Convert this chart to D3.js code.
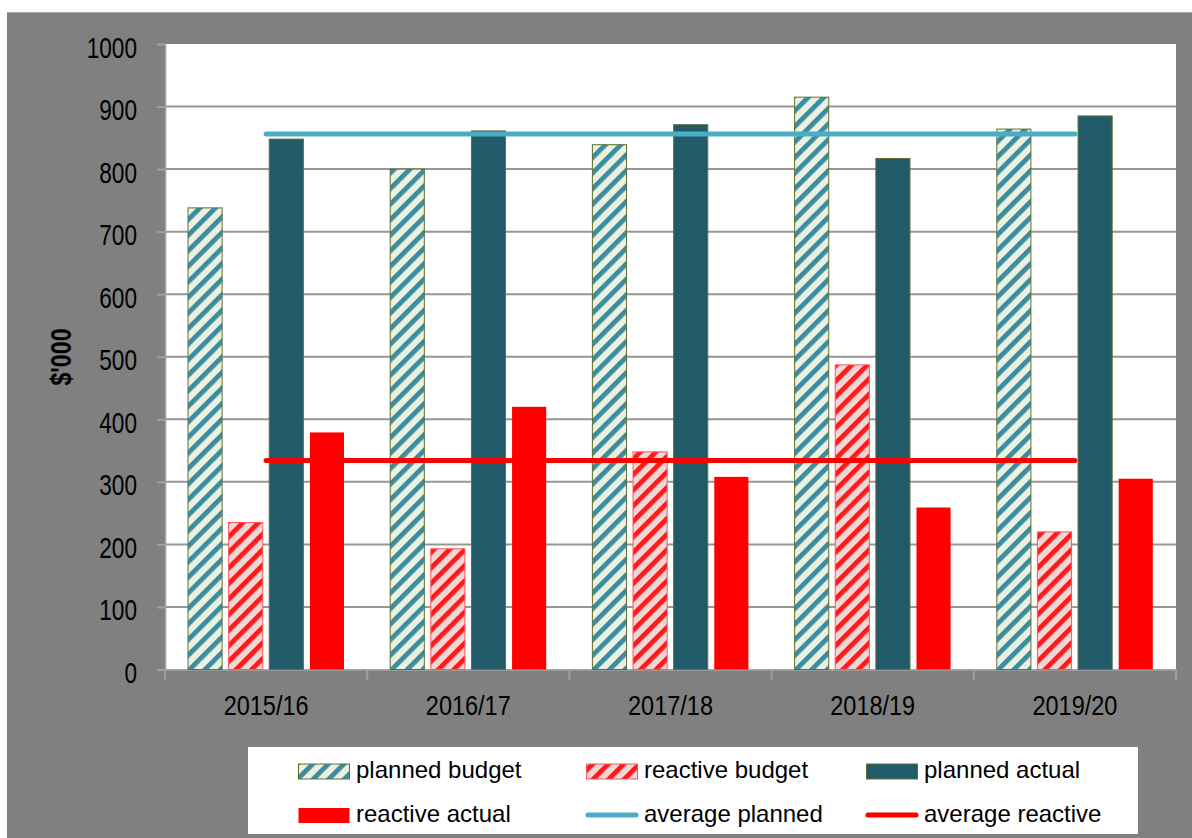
<!DOCTYPE html>
<html>
<head>
<meta charset="utf-8">
<script src="https://cdn.jsdelivr.net/npm/d3@7"></script>
<style>
  html, body { margin: 0; padding: 0; background: #ffffff; }
  svg { display: block; }
  text { font-family: "Liberation Sans", Arial, sans-serif; fill: #000; }
</style>
</head>
<body>
<svg id="chart" width="1192" height="838"></svg>
<script>
// ---- data ----
const categories = ["2015/16", "2016/17", "2017/18", "2018/19", "2019/20"];
const plannedBudget  = [738, 800, 839, 915, 864];
const reactiveBudget = [235, 193, 348, 487, 220];
const plannedActual  = [848, 861, 871, 817, 885];
const reactiveActual = [379, 420, 308, 259, 305];
const averagePlanned  = 856;
const averageReactive = 334;
const yTicks = [0, 100, 200, 300, 400, 500, 600, 700, 800, 900, 1000];
const seriesNames = ["planned budget", "reactive budget", "planned actual", "reactive actual"];
const lineNames = ["average planned", "average reactive"];

const svg = d3.select("#chart");
const W = 1192, H = 838;
const plot = { left: 165, right: 1176, top: 44, bottom: 669.5 };

// defs / patterns
const defs = svg.append("defs");
function stripe(id, bg, fg) {
  const p = defs.append("pattern")
    .attr("id", id).attr("patternUnits", "userSpaceOnUse")
    .attr("width", 11).attr("height", 11)
    .attr("patternTransform", "rotate(45)");
  p.append("rect").attr("width", 11).attr("height", 11).attr("fill", bg);
  p.append("rect").attr("x", 0).attr("width", 4.8).attr("height", 11).attr("fill", fg);
}
stripe("pbPat", "#EBF1DE", "#3A8CA2");
stripe("rbPat", "#F2D6D6", "#FF1A1A");

// background
svg.append("rect").attr("x", 7).attr("y", 12).attr("width", W - 7).attr("height", H - 12).attr("fill", "#808080");
svg.append("line").attr("x1", 7).attr("x2", W).attr("y1", 12.5).attr("y2", 12.5).attr("stroke", "#a8a8a8").attr("stroke-width", 1);
svg.append("rect").attr("x", plot.left).attr("y", plot.top)
  .attr("width", plot.right - plot.left).attr("height", plot.bottom - plot.top).attr("fill", "#ffffff");

// scales
const y = d3.scaleLinear().domain([0, 1000]).range([plot.bottom, plot.top]);
const x0 = d3.scaleBand().domain(categories).range([plot.left, plot.right]).padding(0);
const x1 = d3.scaleBand().domain(seriesNames).range([23, 179]).paddingInner(0.16).paddingOuter(0);

// gridlines
svg.append("g").selectAll("line").data(yTicks.filter(v => v > 0 && v < 1000)).join("line")
  .attr("x1", plot.left).attr("x2", plot.right)
  .attr("y1", d => y(d)).attr("y2", d => y(d))
  .attr("stroke", "#969696").attr("stroke-width", 2);

// y axis
const yAxis = d3.axisLeft(y).tickValues(yTicks).tickSize(8).tickFormat(d3.format("d"));
const gy = svg.append("g").attr("transform", `translate(${plot.left},0)`).call(yAxis);
gy.select(".domain").attr("stroke", "#a0a0a0").attr("stroke-width", 1.5);
gy.selectAll(".tick line").attr("stroke", "#a0a0a0").attr("stroke-width", 2);
gy.selectAll(".tick text").each(function(d) {
  const t = d3.select(this);
  t.attr("x", null).attr("dy", null).attr("fill", "#000")
   .attr("text-anchor", "end")
   .style("font-size", "29px")
   .style("font-family", '"Liberation Sans", Arial, sans-serif')
   .attr("transform", `translate(-28,13) scale(0.78,1)`);
});

// x axis
const xAxis = d3.axisBottom(x0).tickSize(0).tickPadding(0);
const gx = svg.append("g").attr("transform", `translate(0,${plot.bottom})`).call(xAxis);
gx.select(".domain").attr("stroke", "#a0a0a0").attr("stroke-width", 1.5);
gx.selectAll(".tick text").each(function() {
  d3.select(this).attr("y", null).attr("dy", null).attr("fill", "#000")
    .attr("text-anchor", "middle")
    .style("font-size", "27px")
    .style("font-family", '"Liberation Sans", Arial, sans-serif')
    .attr("transform", "translate(0,45) scale(0.87,1)");
});
// category boundary ticks
const bounds = categories.map(c => x0(c)).concat([plot.right]);
gx.append("g").selectAll("line").data(bounds).join("line")
  .attr("x1", d => d).attr("x2", d => d).attr("y1", 0).attr("y2", 10)
  .attr("stroke", "#a0a0a0").attr("stroke-width", 2);

// y title
svg.append("text")
  .attr("transform", "translate(71,357) rotate(-90) scale(0.8,1)")
  .attr("text-anchor", "middle")
  .style("font-size", "29px").style("font-weight", "bold")
  .text("$'000");

// bars
const styles = {
  "planned budget":  { fill: "url(#pbPat)", stroke: "#5E7033", sw: 1 },
  "reactive budget": { fill: "url(#rbPat)", stroke: "#FF5555", sw: 1 },
  "planned actual":  { fill: "#215A68", stroke: "#5E7033", sw: 1 },
  "reactive actual": { fill: "#FF0000", stroke: "none", sw: 0 }
};
const seriesValues = {
  "planned budget": plannedBudget,
  "reactive budget": reactiveBudget,
  "planned actual": plannedActual,
  "reactive actual": reactiveActual
};
const barData = [];
categories.forEach((c, i) => {
  seriesNames.forEach(s => barData.push({ cat: c, series: s, value: seriesValues[s][i] }));
});
svg.append("g").selectAll("rect").data(barData).join("rect")
  .attr("x", d => x0(d.cat) + x1(d.series))
  .attr("y", d => y(d.value))
  .attr("width", x1.bandwidth())
  .attr("height", d => y(0) - y(d.value))
  .attr("fill", d => styles[d.series].fill)
  .attr("stroke", d => styles[d.series].stroke)
  .attr("stroke-width", d => styles[d.series].sw);

// average lines
const cx = c => x0(c) + x0.bandwidth() / 2;
const lineGen = d3.line().x(d => cx(d.cat)).y(d => y(d.v));
svg.append("path")
  .attr("d", lineGen(categories.map(c => ({ cat: c, v: averagePlanned }))))
  .attr("fill", "none").attr("stroke", "#4BACC6").attr("stroke-width", 5).attr("stroke-linecap", "round");
svg.append("path")
  .attr("d", lineGen(categories.map(c => ({ cat: c, v: averageReactive }))))
  .attr("fill", "none").attr("stroke", "#FF0000").attr("stroke-width", 5).attr("stroke-linecap", "round");

// legend
const lg = svg.append("g");
lg.append("rect").attr("x", 248).attr("y", 747).attr("width", 890).attr("height", 87).attr("fill", "#ffffff");
const legendItems = [
  { name: seriesNames[0], kind: "bar", col: 0, row: 0 },
  { name: seriesNames[1], kind: "bar", col: 1, row: 0 },
  { name: seriesNames[2], kind: "bar", col: 2, row: 0 },
  { name: seriesNames[3], kind: "bar", col: 0, row: 1 },
  { name: lineNames[0], kind: "line", color: "#4BACC6", col: 1, row: 1 },
  { name: lineNames[1], kind: "line", color: "#FF0000", col: 2, row: 1 }
];
const colX = [298, 586, 866];
const rowY = [771, 815];
legendItems.forEach(it => {
  const gx0 = colX[it.col], gy0 = rowY[it.row];
  if (it.kind === "bar") {
    const st = styles[it.name];
    lg.append("rect").attr("x", gx0 + 0.5).attr("y", gy0 - 7).attr("width", 51).attr("height", 15)
      .attr("fill", st.fill).attr("stroke", st.stroke).attr("stroke-width", st.sw);
  } else {
    lg.append("line").attr("x1", gx0 + 2).attr("x2", gx0 + 50).attr("y1", gy0).attr("y2", gy0)
      .attr("stroke", it.color).attr("stroke-width", 5).attr("stroke-linecap", "round");
  }
  lg.append("text").attr("x", gx0 + 58).attr("y", gy0 + 7)
    .style("font-size", "24px").text(it.name);
});
</script>
</body>
</html>
